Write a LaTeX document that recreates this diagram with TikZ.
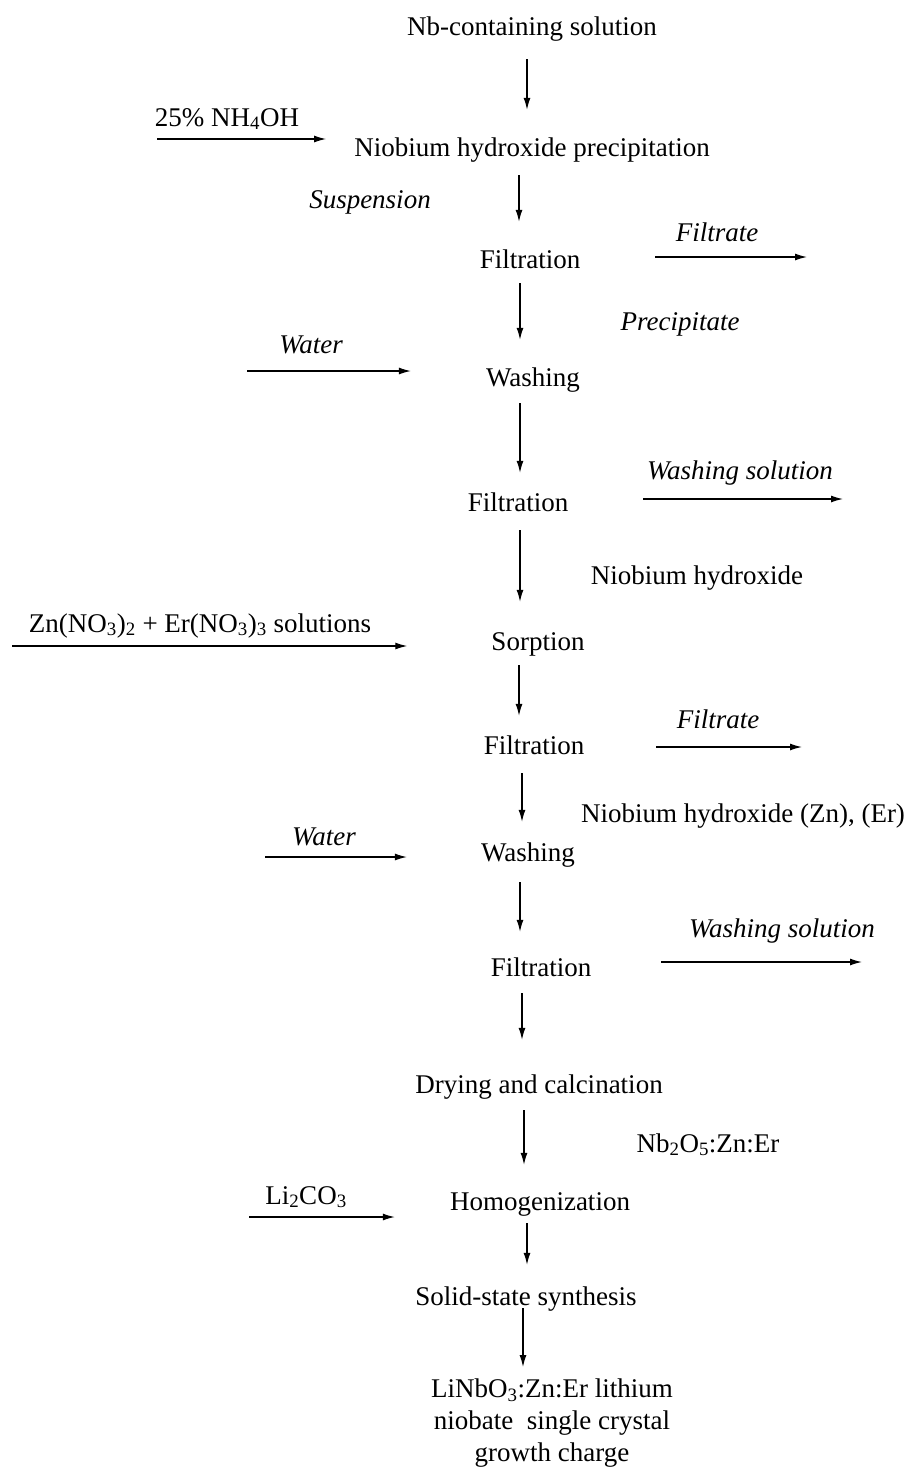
\documentclass[tikz,border=0pt]{standalone}
\usepackage{fontspec}
\setmainfont{Liberation Serif}
\usetikzlibrary{arrows.meta}
\begin{document}
\begin{tikzpicture}[x=1pt,y=-1pt,
  every node/.style={inner sep=0pt, font=\fontsize{27}{32}\selectfont},
  stepbox/.style={anchor=base, text height=19pt, text depth=6pt},
  lbl/.style={anchor=base},
  ilbl/.style={anchor=base, font=\fontsize{27}{32}\selectfont\itshape},
  flow/.style={line width=1.25pt, -{Latex[length=12pt,width=7pt]}},
  vflow/.style 2 args={flow, shorten <=#1pt, shorten >=#2pt}]
\fill[white] (0,0) rectangle (911,1468);
\useasboundingbox (0,0) rectangle (911,1468);

% main steps
\node[stepbox] (t1) at (532,35) {Nb-containing solution};
\node[stepbox] (t2) at (532,156) {Niobium hydroxide precipitation};
\node[stepbox] (t3) at (530,268) {Filtration};
\node[stepbox] (t4) at (533,386) {Washing};
\node[stepbox] (t5) at (518,511) {Filtration};
\node[stepbox] (t6) at (538,650) {Sorption};
\node[stepbox] (t7) at (534,754) {Filtration};
\node[stepbox] (t8) at (528,861) {Washing};
\node[stepbox] (t9) at (541,976) {Filtration};
\node[stepbox] (t10) at (539,1093) {Drying and calcination};
\node[stepbox] (t11) at (540,1210) {Homogenization};
\node[stepbox] (t12) at (526,1305) {Solid-state synthesis};
\node[anchor=north, align=center] (t13) at (552,1379)
  {LiNbO\textsubscript{3}:Zn:Er lithium\\niobate\ \ single crystal\\growth charge};

% side labels
\node[lbl] (l1) at (227,126) {25\% NH\textsubscript{4}OH};
\node[ilbl] (l2) at (370,208) {Suspension};
\node[ilbl] (l3) at (717,241) {Filtrate};
\node[ilbl] (l4) at (680,330) {Precipitate};
\node[ilbl] (l5) at (311,353) {Water};
\node[ilbl] (l6) at (740,479) {Washing solution};
\node[lbl] (l7) at (697,584) {Niobium hydroxide};
\node[lbl] (l8) at (200,632) {Zn(NO\textsubscript{3})\textsubscript{2} + Er(NO\textsubscript{3})\textsubscript{3} solutions};
\node[ilbl] (l9) at (718,728) {Filtrate};
\node[lbl] (l10) at (743,822) {Niobium hydroxide (Zn), (Er)};
\node[ilbl] (l11) at (324,845) {Water};
\node[ilbl] (l12) at (782,937) {Washing solution};
\node[lbl] (l13) at (708,1152) {Nb\textsubscript{2}O\textsubscript{5}:Zn:Er};
\node[lbl] (l14) at (306,1204) {Li\textsubscript{2}CO\textsubscript{3}};

% column positions of the vertical arrows
\coordinate (c1) at (527,0);
\coordinate (c2) at (519,0);
\coordinate (c3) at (520,0);
\coordinate (c6) at (519,0);
\coordinate (c7) at (522,0);
\coordinate (c9) at (522,0);
\coordinate (c10) at (524,0);
\coordinate (c11) at (527,0);
\coordinate (c12) at (523,0);

% vertical arrows
\draw[vflow={18}{27}] (t1.south -| c1) -- (t2.north -| c1);
\draw[vflow={13}{27}] (t2.south -| c2) -- (t3.north -| c2);
\draw[vflow={9}{27}] (t3.south -| c3) -- (t4.north -| c3);
\draw[vflow={11}{19}] (t4.south -| c3) -- (t5.north -| c3);
\draw[vflow={13}{29}] (t5.south -| c3) -- (t6.north -| c3);
\draw[vflow={9}{19}] (t6.south -| c6) -- (t7.north -| c6);
\draw[vflow={13}{20}] (t7.south -| c7) -- (t8.north -| c7);
\draw[vflow={15}{25}] (t8.south -| c3) -- (t9.north -| c3);
\draw[vflow={11}{34}] (t9.south -| c9) -- (t10.north -| c9);
\draw[vflow={11}{26}] (t10.south -| c10) -- (t11.north -| c10);
\draw[vflow={7}{21}] (t11.south -| c11) -- (t12.north -| c11);
\draw[vflow={-3}{12}] (t12.south -| c12) -- (t13.north -| c12);

% inputs (free start ends)
\coordinate (i1) at (157,139);
\coordinate (i2) at (247,371);
\coordinate (i3) at (12,646);
\coordinate (i4) at (265,857);
\coordinate (i5) at (249,1217);
\draw[flow, shorten >=28pt] (i1) -- (t2.west |- i1);
\draw[flow, shorten >=75pt] (i2) -- (t4.west |- i2);
\draw[flow, shorten >=84pt] (i3) -- (t6.west |- i3);
\draw[flow, shorten >=74pt] (i4) -- (t8.west |- i4);
\draw[flow, shorten >=55pt] (i5) -- (t11.west |- i5);

% outputs (free arrow ends)
\coordinate (o1) at (807,257);
\coordinate (o2) at (843,499);
\coordinate (o3) at (802,747);
\coordinate (o4) at (862,962);
\draw[flow, shorten <=75pt] (t3.east |- o1) -- (o1);
\draw[flow, shorten <=75pt] (t5.east |- o2) -- (o2);
\draw[flow, shorten <=72pt] (t7.east |- o3) -- (o3);
\draw[flow, shorten <=70pt] (t9.east |- o4) -- (o4);
\end{tikzpicture}
\end{document}
